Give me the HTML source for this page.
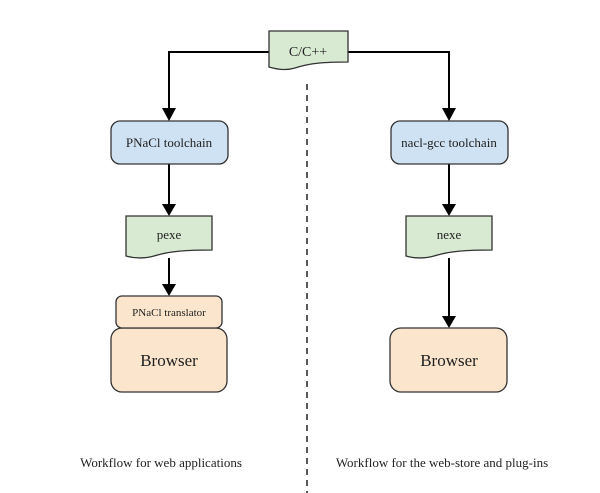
<!DOCTYPE html>
<html><head><meta charset="utf-8"><style>
html,body{margin:0;padding:0;background:#fff;}
svg{display:block;}
text{font-family:"Liberation Serif",serif;fill:#222;}
</style></head><body>
<svg width="600" height="493" viewBox="0 0 600 493" xmlns="http://www.w3.org/2000/svg">
<defs>
<marker id="a" markerWidth="10" markerHeight="10" refX="5" refY="9" orient="auto" markerUnits="userSpaceOnUse" viewBox="0 0 10 10">
<path d="M0,0 L10,0 L5,10 z" fill="#000" transform="rotate(-90 5 5)"/>
</marker>
</defs>
<g stroke="#000" stroke-width="2" fill="none">
<path d="M269,52 H169 V110"/>
<path d="M348,52 H449 V110"/>
<path d="M169,164 V206"/>
<path d="M449,164 V206"/>
<path d="M169,258 V286"/>
<path d="M449,258 V318"/>
</g>
<g fill="#000">
<path d="M162,108 L176,108 L169,121 z"/>
<path d="M442,108 L456,108 L449,121 z"/>
<path d="M162,204 L176,204 L169,216 z"/>
<path d="M442,204 L456,204 L449,216 z"/>
<path d="M162,284 L176,284 L169,296 z"/>
<path d="M442,316 L456,316 L449,328 z"/>
</g>
<line x1="307" y1="84" x2="307" y2="493" stroke="#222" stroke-width="1.5" stroke-dasharray="6,5"/>
<g stroke="#333" stroke-width="1.3">
<path d="M269,31 H348 V62 C325,62 310,63 295,68 C285,71 276,69 269,67 Z" fill="#d9ead3"/>
<path d="M126,216 H212 V250 C187,250 170,251 154,256 C143,259 133,258 126,256 Z" fill="#d9ead3"/>
<path d="M406,216 H492 V250 C467,250 450,251 434,256 C423,259 413,258 406,256 Z" fill="#d9ead3"/>
<rect x="111" y="121" width="117" height="43" rx="9" fill="#cfe2f3"/>
<rect x="391" y="121" width="117" height="43" rx="9" fill="#cfe2f3"/>
<rect x="111" y="328" width="116" height="64" rx="11" fill="#fce5cd"/>
<rect x="116" y="296" width="106" height="32" rx="6" fill="#fce5cd"/>
<rect x="390" y="328" width="117" height="64" rx="11" fill="#fce5cd"/>
</g>
<g text-anchor="middle">
<text x="308" y="56" font-size="14">C/C++</text>
<text x="169" y="147" font-size="13">PNaCl toolchain</text>
<text x="449" y="147" font-size="13">nacl-gcc toolchain</text>
<text x="169" y="239" font-size="13">pexe</text>
<text x="449" y="239" font-size="13">nexe</text>
<text x="169" y="316" font-size="11">PNaCl translator</text>
<text x="169" y="366" font-size="17">Browser</text>
<text x="449" y="366" font-size="17">Browser</text>
<text x="161" y="467" font-size="13">Workflow for web applications</text>
<text x="442" y="467" font-size="13">Workflow for the web-store and plug-ins</text>
</g>
</svg>
</body></html>
